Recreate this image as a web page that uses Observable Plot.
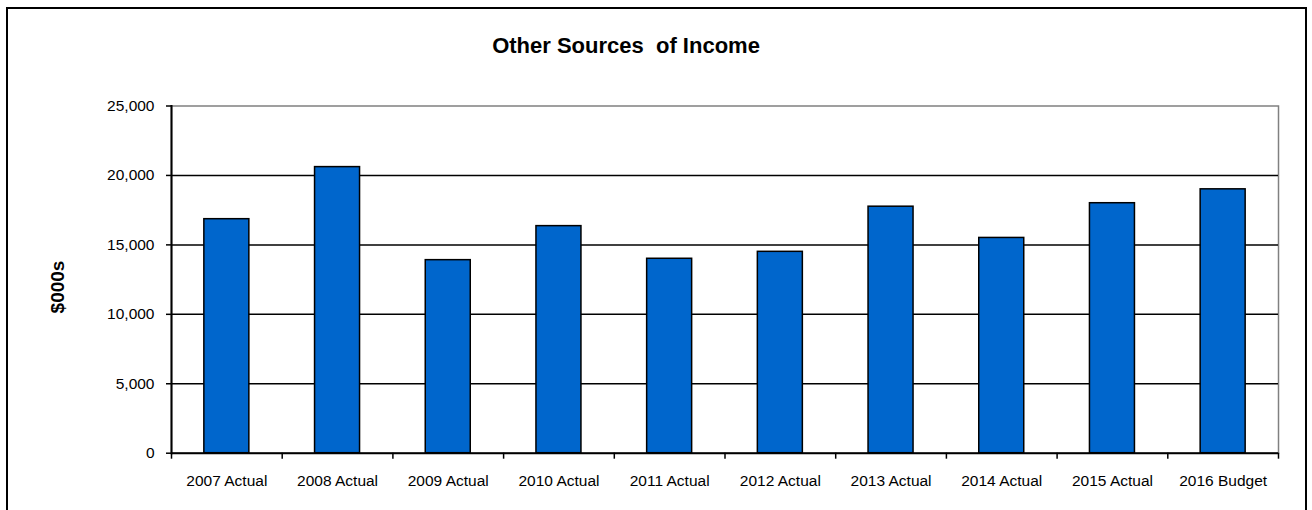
<!DOCTYPE html>
<html>
<head>
<meta charset="utf-8">
<script src="https://cdn.jsdelivr.net/npm/d3@7"></script>
<script src="https://cdn.jsdelivr.net/npm/@observablehq/plot@0.6"></script>
<style>
  html, body { margin: 0; padding: 0; background: #fff; overflow: hidden; }
  #wrap { position: relative; width: 1312px; height: 510px; font-family: 'Liberation Sans', Arial, sans-serif; color: #000; }
  #wrap svg { position: absolute; left: 0; top: 0; }
  #border { position: absolute; left: 6px; top: 7px; width: 1301px; height: 520px; box-sizing: border-box; border: 2px solid #000; pointer-events: none; }
  #title { position: absolute; left: 626px; top: 46px; transform: translate(-50%, -50%); font-size: 22px; font-weight: bold; white-space: pre; }
  #ylabel { position: absolute; left: 57.5px; top: 287px; transform: translate(-50%, -50%) rotate(-90deg); font-size: 19px; font-weight: bold; white-space: pre; }
</style>
</head>
<body>
<div id="wrap"><div id="border"></div><div id="title"></div><div id="ylabel"></div></div>
<script>
const categories = ["2007 Actual","2008 Actual","2009 Actual","2010 Actual","2011 Actual","2012 Actual","2013 Actual","2014 Actual","2015 Actual","2016 Budget"];
const values = [16850, 20600, 13900, 16350, 14000, 14500, 17750, 15500, 18000, 19000];
const yTicks = [0, 5000, 10000, 15000, 20000, 25000];
const gridLines = [5000, 10000, 15000, 20000];
const titleText = "Other Sources  of Income";
const yLabelText = "$000s";

const data = categories.map((c, i) => ({category: c, value: values[i]}));

const W = 1312, H = 510;
const mL = 171, mR = 34, mT = 105.5, mB = 57.3;
const step = (W - mL - mR) / categories.length;
const barW = 45;
const inset = (step - barW) / 2;
const font = "'Liberation Sans', Arial, sans-serif";

const chart = Plot.plot({
  width: W, height: H,
  marginLeft: mL, marginRight: mR, marginTop: mT, marginBottom: mB,
  style: {fontFamily: font, fontSize: "15.5px", color: "#000", background: "transparent", overflow: "visible"},
  x: {type: "band", domain: categories, padding: 0, round: false, label: null},
  y: {domain: [0, 25000], label: null},
  marks: [
    Plot.frame({stroke: "#808080", strokeWidth: 1.5}),
    Plot.ruleY(gridLines, {stroke: "#000", strokeWidth: 1.5}),
    Plot.barY(data, {x: "category", y: "value", fill: "#0066CC", stroke: "#000", strokeWidth: 1.5, insetLeft: inset, insetRight: inset}),
    Plot.frame({anchor: "left", stroke: "#000", strokeWidth: 2}),
    Plot.ruleY([0], {stroke: "#000", strokeWidth: 2}),
    Plot.axisY({ticks: yTicks, tickFormat: d3.format(","), tickSize: 5, tickPadding: 12, label: null, stroke: "#000", strokeWidth: 1.5, fill: "#000"}),
    Plot.axisX({tickSize: 6, tickFormat: () => "", dx: -step / 2, label: null, stroke: "#000", strokeWidth: 1.5}),
    Plot.axisX({ticks: [categories[categories.length - 1]], tickSize: 6, tickFormat: () => "", dx: step / 2, label: null, stroke: "#000", strokeWidth: 1.5}),
    Plot.axisX({tickSize: 0, tickPadding: 22, label: null, fill: "#000"})
  ]
});
document.getElementById("wrap").prepend(chart);
document.getElementById("title").textContent = titleText;
document.getElementById("ylabel").textContent = yLabelText;
</script>
</body>
</html>
